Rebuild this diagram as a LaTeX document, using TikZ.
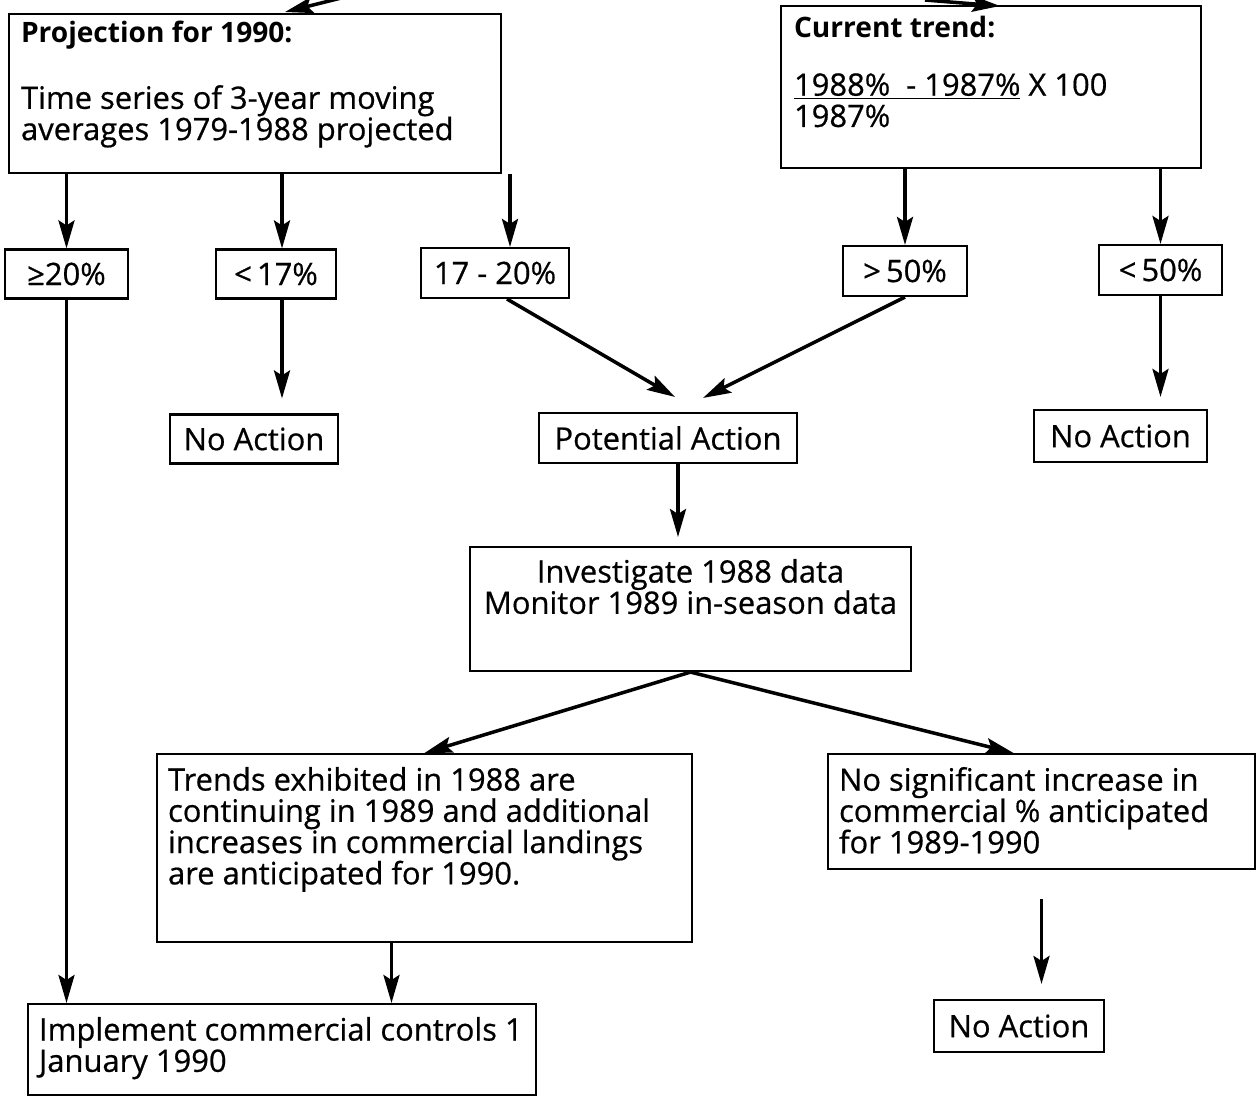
\documentclass[tikz,border=0pt]{standalone}
\usepackage{fontspec}
\setmainfont{Open Sans}[UprightFeatures={FakeBold=0.6}]
\usetikzlibrary{arrows.meta,calc}

\begin{document}
\begin{tikzpicture}[x=0.02cm,y=-0.02cm,
	box/.style={draw, line width=1.2pt, inner sep=0pt, minimum height=0.98cm},
	panel/.style={draw, line width=1.2pt, anchor=north west, inner xsep=0.22cm, inner ysep=0.26cm},
	arr/.style={line width=2pt, -{Stealth[length=0.56cm,width=0.32cm,inset=0.1cm]}},
	font=\fontsize{17.6}{17.8}\selectfont]
	\useasboundingbox (0,0) rectangle (1259,1096);
	
	% the two tests
	\path (8,13) node[panel, inner xsep=0.24cm, inner ysep=0.14cm] (proj){\parbox[t][2.9cm][t]{9.36cm}{\raggedright{\fontsize{16}{17.8}\selectfont\bfseries Projection for 1990:}\\[0.7cm]Time series of 3-year moving\\averages 1979-1988 projected}}
	(780,5) node[panel, inner xsep=0.26cm, inner ysep=0.2cm] (trend){\parbox[t][2.84cm][t]{7.88cm}{\raggedright{\fontsize{16}{17.8}\selectfont\bfseries Current trend:}\\[0.54cm]\underline{1988\%\ \ - 1987\%} X 100\\1987\%}};
	
	% outcomes
	\path (66.5,274) node[box, minimum width=2.46cm] (ge20){≥20\%}
	(276,274) node[box, minimum width=2.4cm] (lt17){<\,17\%}
	(495,273) node[box, minimum width=2.96cm, minimum height=1cm] (mid){17 - 20\%}
	(905,271) node[box, minimum width=2.48cm, minimum height=1cm] (gt50){>\,50\%}
	(1160.5,270) node[box, minimum width=2.46cm, minimum height=1cm] (lt50){<\,50\%};
	
	\path (254,439) node[box, minimum width=3.36cm] (na1){No Action}
	(668,438) node[box, minimum width=5.16cm, minimum height=1cm] (pot){Potential Action}
	(1120.5,436) node[box, minimum width=3.46cm, minimum height=1.04cm] (na2){No Action}
	(1019,1026) node[box, minimum width=3.4cm, minimum height=1.04cm] (na3){No Action};
	
	\path (469,546) node[panel, inner xsep=0.2cm, inner ysep=0.24cm] (inv){\parbox[t][2cm][t]{8.42cm}{\centering Investigate 1988 data\\Monitor 1989 in-season data}}
	(156,753) node[panel] (trends){\parbox[t][3.24cm][t]{10.26cm}{\raggedright Trends exhibited in 1988 are\\continuing in 1989 and additional\\increases in commercial landings\\are anticipated for 1990.}}
	(827,753) node[panel] (nosig){\parbox[t][1.78cm][t]{8.1cm}{\raggedright No significant increase in\\commercial \% anticipated\\for 1989-1990}}
	(27,1003) node[panel] (impl){\parbox[t][1.3cm][t]{9.72cm}{\raggedright Implement commercial controls 1\\January 1990}};
	
	% arrows coming in from above the cut
	\coordinate (projfrom) at (345,-3);
	\coordinate (projto) at (285,12);
	\coordinate (trendfrom) at (925,0);
	\coordinate (trendto) at (1000,6);
	\draw[arr] (projfrom) -- (projto);
	\draw[arr] (trendfrom) -- (trendto);
	
	\draw[arr] (proj.south -| ge20.north) -- (ge20.north);
	\draw[arr] ($(proj.south -| lt17.north)+(6,0)$) -- ($(lt17.north)+(6,0)$);
	\draw[arr] ($(proj.south -| mid.north)+(15,0)$) -- ($(mid.north)+(15,0)$);
	\draw[arr] (trend.south -| gt50.north) -- (gt50.north);
	\draw[arr] (trend.south -| lt50.north) -- (lt50.north);
	
	\draw[arr, shorten >=0.3cm] ($(lt17.south)+(6,0)$) -- ($(lt17.south |- na1.north)+(6,0)$);
	\draw[arr, shorten >=0.24cm] (lt50.south) -- (lt50.south |- na2.north);
	\draw[arr] ([xshift=0.24cm]mid.south) -- ([xshift=0.14cm,yshift=0.3cm]pot.north);
	\draw[arr] (gt50.south) -- ([xshift=0.7cm,yshift=0.28cm]pot.north);
	\draw[arr, shorten >=0.18cm] ($(pot.south)+(10,0)$) -- ($(pot.south |- inv.north)+(10,0)$);
	
	\draw[arr] (inv.south) -- (trends.north);
	\draw[arr] (inv.south) -- ([xshift=-0.56cm]nosig.north);
	
	\draw[arr] (ge20.south) -- (ge20.south |- impl.north);
	\draw[arr] ($(trends.south)+(-33,0)$) -- ($(trends.south |- impl.north)+(-33,0)$);
	\draw[arr, shorten <=0.58cm, shorten >=0.3cm] (nosig.south) -- (nosig.south |- na3.north);
\end{tikzpicture}
\end{document}
